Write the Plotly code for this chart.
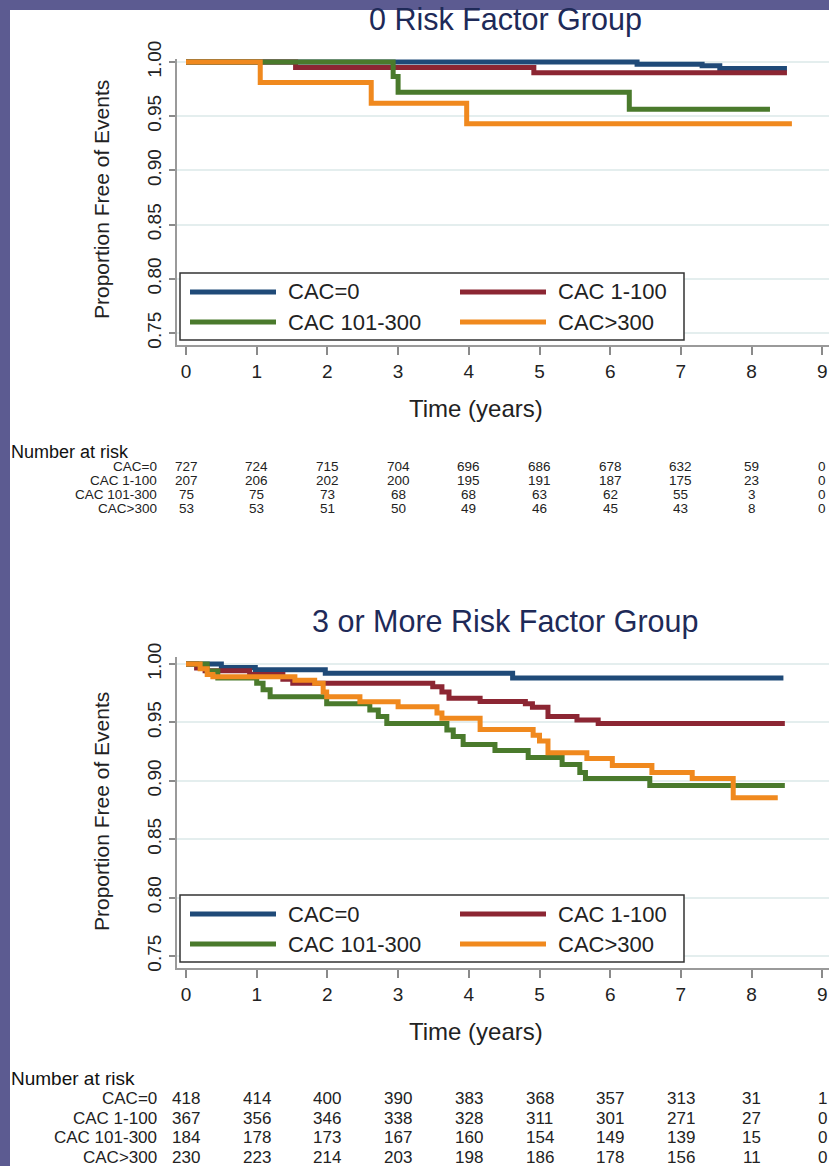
import plotly.graph_objects as go

W, H = 829, 1166

# ---------------- data ----------------
series_names = ["CAC=0", "CAC 1-100", "CAC 101-300", "CAC>300"]
series_colors = ["#1f4a78", "#8c2633", "#4a7a2c", "#f0891e"]

# 0 risk factor group: Kaplan-Meier step points (time in years, proportion event free)
zero_t_cac0 = [0, 6.38, 7.3, 7.55, 8.5]
zero_s_cac0 = [1.0, 0.998, 0.9965, 0.9940, 0.9940]
zero_t_cac1 = [0, 1.55, 4.92, 8.5]
zero_s_cac1 = [1.0, 0.995, 0.990, 0.990]
zero_t_cac2 = [0, 2.93, 3.0, 6.27, 8.26]
zero_s_cac2 = [1.0, 0.9867, 0.9720, 0.9565, 0.9565]
zero_t_cac3 = [0, 1.05, 2.62, 3.97, 8.57]
zero_s_cac3 = [1.0, 0.981, 0.962, 0.943, 0.943]

# 3 or more risk factor group
three_t_cac0 = [0, 0.5, 0.98, 1.97, 4.62, 8.45]
three_s_cac0 = [1.0, 0.997, 0.995, 0.992, 0.988, 0.988]
three_t_cac1 = [0, 0.15, 0.27, 0.9, 1.37, 1.51, 3.49, 3.62, 3.72, 4.16, 4.8, 4.9, 5.12, 5.53, 5.83, 8.47]
three_s_cac1 = [1.0, 0.9965, 0.9943, 0.991, 0.987, 0.9835, 0.9806, 0.976, 0.9706, 0.968, 0.966,
                0.963, 0.955, 0.952, 0.949, 0.949]
three_t_cac2 = [0, 0.3, 0.45, 1.0, 1.09, 1.19, 1.99, 2.6, 2.72, 2.84, 3.69, 3.78, 3.92, 4.37, 4.84,
                5.32, 5.57, 5.65, 6.56, 8.47]
three_s_cac2 = [1.0, 0.994, 0.988, 0.9835, 0.978, 0.972, 0.966, 0.9606, 0.955, 0.949, 0.9435, 0.938,
                0.931, 0.926, 0.920, 0.914, 0.907, 0.902, 0.896, 0.896]
three_t_cac3 = [0, 0.2, 0.3, 0.38, 1.54, 1.82, 1.94, 1.99, 2.46, 3.0, 3.55, 3.62, 4.16, 4.91, 5.0,
                5.12, 5.67, 6.03, 6.59, 7.16, 7.74, 8.37]
three_s_cac3 = [1.0, 0.996, 0.991, 0.989, 0.986, 0.9835, 0.976, 0.972, 0.9677, 0.9634, 0.958, 0.9535,
                0.944, 0.939, 0.934, 0.924, 0.919, 0.913, 0.907, 0.902, 0.8855, 0.8855]

# numbers at risk at years 0..9
risk_years = [0, 1, 2, 3, 4, 5, 6, 7, 8, 9]
zero_risk_cac0 = [727, 724, 715, 704, 696, 686, 678, 632, 59, 0]
zero_risk_cac1 = [207, 206, 202, 200, 195, 191, 187, 175, 23, 0]
zero_risk_cac2 = [75, 75, 73, 68, 68, 63, 62, 55, 3, 0]
zero_risk_cac3 = [53, 53, 51, 50, 49, 46, 45, 43, 8, 0]
three_risk_cac0 = [418, 414, 400, 390, 383, 368, 357, 313, 31, 1]
three_risk_cac1 = [367, 356, 346, 338, 328, 311, 301, 271, 27, 0]
three_risk_cac2 = [184, 178, 173, 167, 160, 154, 149, 139, 15, 0]
three_risk_cac3 = [230, 223, 214, 203, 198, 186, 178, 156, 11, 0]

x_ticks = [0, 1, 2, 3, 4, 5, 6, 7, 8, 9]
y_ticks = [0.75, 0.80, 0.85, 0.90, 0.95, 1.00]
y_tick_text = ["0.75", "0.80", "0.85", "0.90", "0.95", "1.00"]

panel_titles = ["0 Risk Factor Group", "3 or More Risk Factor Group"]


def px(x):
    return x / W


def py(y):
    return 1 - y / H


SANS = "Liberation Sans, Arial, sans-serif"

fig = go.Figure()

zero_curves = [(zero_t_cac0, zero_s_cac0), (zero_t_cac1, zero_s_cac1),
               (zero_t_cac2, zero_s_cac2), (zero_t_cac3, zero_s_cac3)]
three_curves = [(three_t_cac0, three_s_cac0), (three_t_cac1, three_s_cac1),
                (three_t_cac2, three_s_cac2), (three_t_cac3, three_s_cac3)]

for (t, s), name, col in zip(zero_curves, series_names, series_colors):
    fig.add_trace(go.Scatter(x=t, y=s, mode="lines", line=dict(color=col, width=5, shape="hv"),
                             name=name, xaxis="x", yaxis="y", showlegend=False))
for (t, s), name, col in zip(three_curves, series_names, series_colors):
    fig.add_trace(go.Scatter(x=t, y=s, mode="lines", line=dict(color=col, width=5, shape="hv"),
                             name=name, xaxis="x2", yaxis="y2", showlegend=False))

# panel geometry (pixels)
plot_left = 177
top_panel = dict(top=59, bottom=345, y100=62, per05=54.2)
bot_panel = dict(top=657, bottom=968, y100=664, per05=58.4)
x0_px, per_year = 186, 70.7


def y_range(p):
    lo = 1 - (p["bottom"] - p["y100"]) / p["per05"] * 0.05
    hi = 1 + (p["y100"] - p["top"]) / p["per05"] * 0.05
    return [lo, hi]


x_range = [(plot_left - x0_px) / per_year, (W - x0_px) / per_year]

xaxis_style = dict(range=x_range, domain=[px(plot_left), 1.0], tickvals=x_ticks,
                   ticks="outside", ticklen=8, tickwidth=1.5, tickcolor="#8a8a8a",
                   showline=True, linecolor="#9a9a9a", linewidth=2, showgrid=False,
                   zeroline=False, tickfont=dict(family=SANS, size=19, color="#222"))
yaxis_style = dict(tickvals=y_ticks, ticktext=y_tick_text, tickangle=-90,
                   ticks="outside", ticklen=6, tickwidth=1.5, tickcolor="#8a8a8a",
                   showline=True, linecolor="#9a9a9a", linewidth=2,
                   showgrid=True, gridcolor="#e4eeee", gridwidth=1.5, zeroline=False,
                   tickfont=dict(family=SANS, size=19, color="#222"))

fig.update_layout(
    width=W, height=H, autosize=False,
    margin=dict(l=0, r=0, t=0, b=0, pad=0, autoexpand=False),
    paper_bgcolor="#5c5b91", plot_bgcolor="white",
    xaxis=dict(**xaxis_style, anchor="y"),
    yaxis=dict(**yaxis_style, range=y_range(top_panel), anchor="x",
               domain=[py(top_panel["bottom"]), py(top_panel["top"])]),
    xaxis2=dict(**xaxis_style, anchor="y2"),
    yaxis2=dict(**yaxis_style, range=y_range(bot_panel), anchor="x2",
                domain=[py(bot_panel["bottom"]), py(bot_panel["top"])]),
)

shapes = []
# white slide area inside the purple frame
shapes.append(dict(type="rect", xref="paper", yref="paper", x0=px(10), x1=1.02, y0=-0.02, y1=py(10),
                   fillcolor="white", line=dict(width=0), layer="below"))

annotations = []


def note(text, x, y, size, xanchor="center", color="#222", xref="paper", angle=0):
    annotations.append(dict(text=text, xref=xref, yref="paper", x=x, y=y,
                            xanchor=xanchor, yanchor="middle", textangle=angle,
                            showarrow=False, borderpad=0,
                            font=dict(family=SANS, size=size, color=color)))


def add_panel_text(title, title_y, axis_title_y, time_y, legend_top, table_top, table_step,
                   table_font, header_font, risk_rows, xref):
    note(title, px(505), py(title_y), 30.5, color="#1e2a58")
    note("Proportion Free of Events", px(101), py(axis_title_y), 21, angle=-90)
    note("Time (years)", px(476), py(time_y), 24)
    # legend box
    shapes.append(dict(type="rect", xref="paper", yref="paper",
                       x0=px(180), x1=px(684), y0=py(legend_top + 67), y1=py(legend_top),
                       fillcolor="white", line=dict(color="#333", width=1.5), layer="above"))
    legend_slots = [(190, 19), (460, 19), (190, 49), (460, 49)]
    for (lx, dy), name, col in zip(legend_slots, series_names, series_colors):
        shapes.append(dict(type="line", xref="paper", yref="paper",
                           x0=px(lx), x1=px(lx + 86), y0=py(legend_top + dy),
                           y1=py(legend_top + dy), line=dict(color=col, width=5),
                           layer="above"))
        note(name, px(lx + 97), py(legend_top + dy), 22, xanchor="left")
    # number at risk table
    note("Number at risk", px(10), py(table_top), header_font, xanchor="left", color="#111")
    for i, (name, row) in enumerate(zip(series_names, risk_rows)):
        yy = py(table_top + table_step * (i + 1) + 1)
        note(name, px(158), yy, table_font, xanchor="right")
        for yr, n in zip(risk_years, row):
            note(str(n), yr, yy, table_font, xref=xref)


add_panel_text(panel_titles[0], 20, 200, 408, 273, 452, 13.9, 13.5, 18,
               [zero_risk_cac0, zero_risk_cac1, zero_risk_cac2, zero_risk_cac3], "x")
add_panel_text(panel_titles[1], 621, 812, 1031, 895, 1078, 19.5, 17, 19,
               [three_risk_cac0, three_risk_cac1, three_risk_cac2, three_risk_cac3], "x2")

fig.update_layout(shapes=shapes, annotations=annotations)

fig.write_html("out.html")
